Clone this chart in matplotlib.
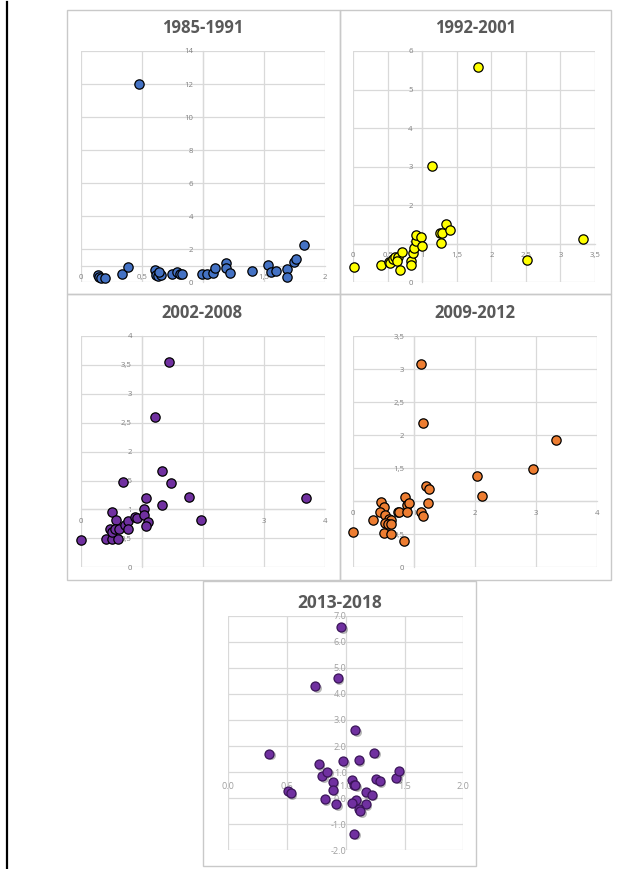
import matplotlib
matplotlib.use("Agg")
import matplotlib.pyplot as plt
import matplotlib.transforms as mtransforms
from matplotlib.patches import Rectangle
from matplotlib.lines import Line2D
from matplotlib.ticker import FuncFormatter

W, H = 618, 869

# ---- data -------------------------------------------------------------
x_1985 = [0.14, 0.15, 0.17, 0.20, 0.34, 0.39, 0.48, 0.61, 0.62, 0.63, 0.66, 0.64,
          0.75, 0.79, 0.81, 0.83, 0.99, 1.03, 1.08, 1.10, 1.19, 1.19, 1.22, 1.40,
          1.53, 1.56, 1.60, 1.69, 1.69, 1.75, 1.76, 1.83]
y_1985 = [0.44, 0.34, 0.24, 0.28, 0.48, 0.95, 12.0, 0.75, 0.44, 0.40, 0.44, 0.62,
          0.50, 0.65, 0.48, 0.50, 0.48, 0.48, 0.59, 0.85, 1.15, 0.89, 0.59, 0.71,
          1.03, 0.65, 0.71, 0.79, 0.34, 1.25, 1.43, 2.28]

x_1992 = [0.01, 0.40, 0.51, 0.53, 0.57, 0.60, 0.65, 0.64, 0.71, 0.67, 0.83, 0.83,
          0.87, 0.885, 0.91, 0.915, 0.98, 1.00, 1.14, 1.26, 1.28, 1.27, 1.34, 1.40,
          1.81, 2.52, 3.32]
y_1992 = [0.40, 0.44, 0.52, 0.50, 0.60, 0.65, 0.65, 0.55, 0.78, 0.31, 0.56, 0.46,
          0.77, 0.90, 1.08, 1.23, 1.17, 0.93, 3.02, 1.28, 1.28, 1.01, 1.52, 1.36,
          5.59, 0.57, 1.12]

x_2002 = [0.00, 0.41, 0.52, 0.61, 0.51, 0.58, 0.48, 0.52, 0.56, 0.63, 0.73, 0.78,
          0.78, 0.89, 0.93, 1.03, 1.04, 1.10, 1.07, 1.07, 1.34, 1.48, 1.33, 0.70,
          1.78, 1.97, 1.44, 1.21, 3.69]
y_2002 = [0.47, 0.49, 0.49, 0.49, 0.95, 0.82, 0.67, 0.61, 0.67, 0.67, 0.73, 0.80,
          0.67, 0.87, 0.85, 1.01, 0.91, 0.78, 0.72, 1.19, 1.07, 1.46, 1.67, 1.48,
          1.21, 0.82, 3.55, 2.60, 1.20]

x_2009 = [0.005, 0.33, 0.50, 0.62, 0.83, 0.46, 0.51, 0.45, 0.52, 0.59, 0.62, 0.52,
          0.58, 0.62, 0.73, 0.76, 0.85, 0.89, 0.91, 0.88, 1.11, 1.15, 1.19, 1.24,
          1.23, 1.11, 1.14, 2.03, 2.11, 2.95, 3.33]
y_2009 = [0.54, 0.71, 0.52, 0.50, 0.40, 0.99, 0.92, 0.84, 0.79, 0.73, 0.72, 0.67,
          0.65, 0.65, 0.84, 0.84, 1.07, 0.95, 0.98, 0.83, 0.83, 0.77, 1.23, 1.18,
          0.98, 3.08, 2.19, 1.38, 1.08, 1.49, 1.93]

x_2013 = [0.35, 0.51, 0.53, 0.77, 0.80, 0.84, 0.89, 0.89, 0.82, 0.92, 0.98, 1.11,
          1.24, 1.05, 1.07, 1.08, 1.17, 1.22, 1.09, 1.05, 1.17, 1.11, 1.12, 1.07,
          1.26, 1.29, 1.43, 1.45, 0.96, 0.93, 0.74, 1.08]
y_2013 = [1.71, 0.28, 0.20, 1.30, 0.86, 1.02, 0.61, 0.33, -0.03, -0.23, 1.41, 1.46,
          1.75, 0.69, 0.52, 0.50, 0.23, 0.14, -0.08, -0.17, -0.23, -0.40, -0.50, -1.36,
          0.72, 0.64, 0.79, 1.04, 6.57, 4.60, 4.31, 2.62]

titles = ["1985-1991", "1992-2001", "2002-2008", "2009-2012", "2013-2018"]

xticks_1985 = [0, 0.5, 1, 1.5, 2]
yticks_1985 = [0, 2, 4, 6, 8, 10, 12, 14]
xticks_1992 = [0, 0.5, 1, 1.5, 2, 2.5, 3, 3.5]
yticks_1992 = [0, 1, 2, 3, 4, 5, 6]
xticks_2002 = [0, 1, 2, 3, 4]
yticks_2002 = [0, 0.5, 1, 1.5, 2, 2.5, 3, 3.5, 4]
xticks_2009 = [0, 1, 2, 3, 4]
yticks_2009 = [0, 0.5, 1, 1.5, 2, 2.5, 3, 3.5]
xticks_2013 = [0.0, 0.5, 1.0, 1.5, 2.0]
yticks_2013 = [-2.0, -1.0, 0.0, 1.0, 2.0, 3.0, 4.0, 5.0, 6.0, 7.0]

# ---- figure -----------------------------------------------------------
fig = plt.figure(figsize=(W / 100, H / 100), dpi=100)
fig.patch.set_facecolor("white")

GRID = "#d9d9d9"
TICK = "#7f7f7f"
TITLE = "#595959"
BORDER = "#c9c9c9"


def px_axes(left, top, right, bottom):
    return fig.add_axes([left / W, 1 - bottom / H, (right - left) / W, (bottom - top) / H])


def comma_fmt(v, pos):
    s = ("%g" % v)
    return s.replace(".", ",")


def dot_fmt(v, pos):
    return "%.1f" % v


def chart_box(left, top, right, bottom):
    fig.patches.append(Rectangle((left / W, 1 - bottom / H), (right - left) / W,
                                 (bottom - top) / H, transform=fig.transFigure,
                                 facecolor="none", edgecolor=BORDER, lw=1.0, zorder=-1))


def panel(box, x, y, xlim, ylim, xt, yt, cross, face, edge, title, title_xy,
          fmt, tick_fs, title_fs, spine_color, tick_color=TICK, size=45,
          shadow=False):
    ax = px_axes(*box)
    ax.set_facecolor("none")
    ax.set_xlim(*xlim)
    ax.set_ylim(*ylim)
    ax.set_xticks(xt)
    ax.set_yticks(yt)
    ax.xaxis.set_major_formatter(FuncFormatter(fmt))
    ax.yaxis.set_major_formatter(FuncFormatter(fmt))
    ax.grid(True, color=GRID, lw=0.9)
    ax.set_axisbelow(True)
    for s in ("top", "right"):
        ax.spines[s].set_visible(False)
    ax.spines["left"].set_position(("data", cross[0]))
    ax.spines["bottom"].set_position(("data", cross[1]))
    for s in ("left", "bottom"):
        ax.spines[s].set_color(spine_color)
        ax.spines[s].set_linewidth(0.9)
    ax.tick_params(axis="both", length=0, labelsize=tick_fs, labelcolor=tick_color)
    ax.tick_params(axis="y", pad=7.0)
    ax.tick_params(axis="x", pad=6.0)
    for lab in ax.get_xticklabels() + ax.get_yticklabels():
        lab.set_fontfamily("Open Sans")
    if shadow:
        off = mtransforms.ScaledTranslation(1.6 / 100, -1.8 / 100, fig.dpi_scale_trans)
        ax.scatter(x, y, s=size, c="#000000", alpha=0.28, linewidths=0, zorder=2.8,
                   clip_on=False, transform=ax.transData + off)
    ax.scatter(x, y, s=size, c=face, edgecolors=edge, linewidths=0.9, zorder=3,
               clip_on=False)
    fig.text(title_xy[0] / W, 1 - title_xy[1] / H, title, ha="center", va="center",
             fontsize=title_fs, fontweight="bold", color=TITLE, family="Open Sans")
    return ax


# chart frames
chart_box(67, 10, 340, 294)
chart_box(340, 10, 611, 294)
chart_box(67, 294, 340, 580)
chart_box(340, 294, 611, 580)
chart_box(203, 581, 476, 866)

panel((80.7, 51, 325, 282.3), x_1985, y_1985, (0, 2), (0, 14), xticks_1985, yticks_1985,
      (1, 1), "#4472c4", "black", titles[0], (202.7, 27.7), comma_fmt, 5.6, 12, GRID)
panel((353.3, 51, 595, 282.3), x_1992, y_1992, (0, 3.5), (0, 6), xticks_1992, yticks_1992,
      (1, 1), "#ffff00", "black", titles[1], (475.3, 27.7), comma_fmt, 5.6, 12, GRID)
panel((80.7, 336, 324.7, 567.3), x_2002, y_2002, (0, 4), (0, 4), xticks_2002, yticks_2002,
      (1, 1), "#7030a0", "black", titles[2], (201.7, 312.7), comma_fmt, 5.6, 12, GRID)
panel((353, 336, 597.3, 567.3), x_2009, y_2009, (0, 4), (0, 3.5), xticks_2009, yticks_2009,
      (1, 1), "#ed7d31", "black", titles[3], (474.7, 312.7), comma_fmt, 5.6, 12, GRID)
panel((228.3, 615.7, 463.3, 850.3), x_2013, y_2013, (0, 2), (-2, 7), xticks_2013, yticks_2013,
      (1.09, 0.95), "#7030a0", "#3a1458", titles[4], (339.3, 603), dot_fmt, 6.6, 12.5,
      "none", tick_color="#a0a0a0", size=42, shadow=True)

# page margin rule
fig.add_artist(Line2D([6.7 / W, 6.7 / W], [0, 1 - 2 / H], transform=fig.transFigure,
                      color="black", lw=1.6))

fig.savefig("out.png", dpi=100, facecolor="white")
